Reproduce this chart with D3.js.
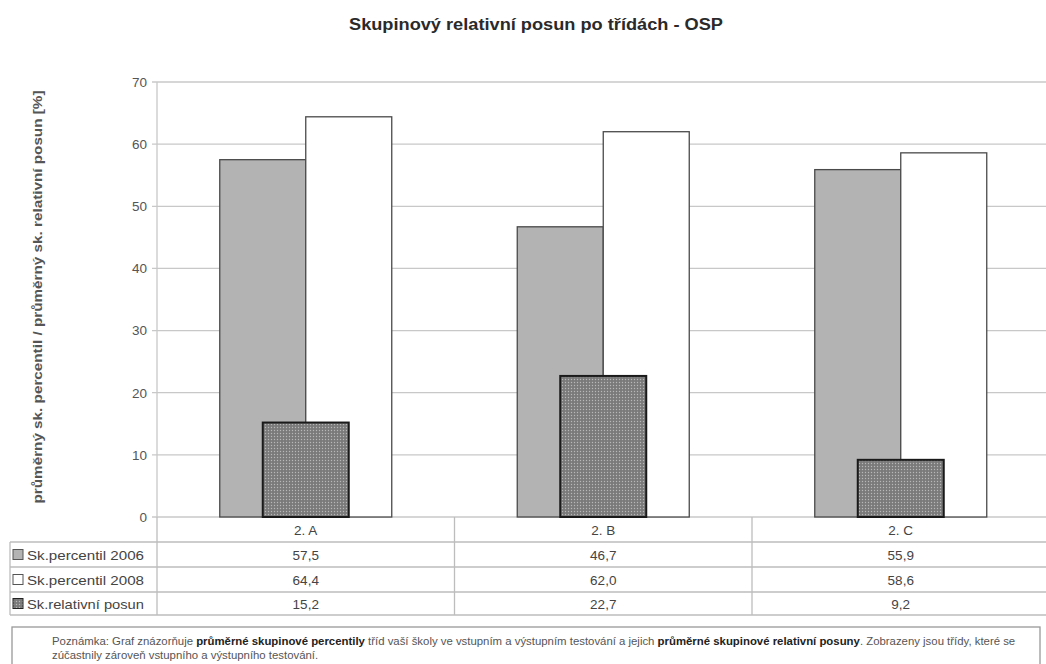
<!DOCTYPE html>
<html><head><meta charset="utf-8">
<script src="https://cdn.jsdelivr.net/npm/d3@7"></script>
<style>
body{margin:0;background:#fff;}
text{font-family:"Liberation Sans",Arial,sans-serif;}
</style></head>
<body><svg id="c" width="1046" height="664"></svg>
<script>
const categories = ["2. A", "2. B", "2. C"];
const seriesNames = ["Sk.percentil 2006", "Sk.percentil 2008", "Sk.relativní posun"];
const percentil2006 = [57.5, 46.7, 55.9];
const percentil2008 = [64.4, 62.0, 58.6];
const relativniPosun = [15.2, 22.7, 9.2];
const yTicks = [0, 10, 20, 30, 40, 50, 60, 70];

const fmt = v => v.toFixed(1).replace(".", ",");
const svg = d3.select("#c");
const defs = svg.append("defs");
const pat = defs.append("pattern").attr("id","dots").attr("width",3).attr("height",3).attr("patternUnits","userSpaceOnUse");
pat.append("rect").attr("width",3).attr("height",3).attr("fill","#7a7a7a");
pat.append("circle").attr("cx",1.5).attr("cy",1.5).attr("r",0.7).attr("fill","#b8b8b8");

const pLeft = 157, pRight = 1049.5, pTop = 82, pBottom = 517;
const x = d3.scaleBand().domain(categories).range([pLeft, pRight]);
const y = d3.scaleLinear().domain([0, 70]).range([pBottom, pTop]);
const barW = 86;

// title
svg.append("text").attr("x", 536).attr("y", 30).attr("text-anchor","middle")
  .attr("font-size", 16).attr("font-weight","bold").attr("fill","#2a2a2a")
  .attr("textLength", 374).attr("lengthAdjust","spacingAndGlyphs")
  .text("Skupinový relativní posun po třídách - OSP");

// gridlines
svg.append("g").selectAll("line").data(yTicks).join("line")
  .attr("x1", pLeft - 5).attr("x2", 1046).attr("y1", d => y(d)).attr("y2", d => y(d))
  .attr("stroke", "#c8c8c8").attr("stroke-width", 1.3);
svg.append("line").attr("x1", pLeft).attr("x2", pLeft).attr("y1", pTop).attr("y2", pBottom)
  .attr("stroke","#c8c8c8").attr("stroke-width",1.3);

// y axis labels
const yAxis = d3.axisLeft(y).tickValues(yTicks).tickSize(0).tickPadding(0);
const gy = svg.append("g").attr("transform", `translate(${pLeft-10},0)`).call(yAxis);
gy.select(".domain").remove();
gy.selectAll("text").attr("font-size", 13.5).attr("fill", "#555").attr("font-family","Liberation Sans, Arial, sans-serif");

// y title
svg.append("text").attr("transform", "translate(42,297) rotate(-90)").attr("text-anchor","middle")
  .attr("font-size", 13).attr("font-weight","bold").attr("fill","#555")
  .attr("textLength", 413).attr("lengthAdjust","spacingAndGlyphs")
  .text("průměrný sk. percentil / průměrný sk. relativní posun [%]");

// bars
const g = svg.append("g");
categories.forEach((c, i) => {
  const cx = x(c) + x.bandwidth()/2;
  g.append("rect").attr("x", cx - barW).attr("y", y(percentil2006[i])).attr("width", barW)
    .attr("height", y(0) - y(percentil2006[i])).attr("fill", "#b3b3b3").attr("stroke", "#4a4a4a").attr("stroke-width", 1.3);
  g.append("rect").attr("x", cx).attr("y", y(percentil2008[i])).attr("width", barW)
    .attr("height", y(0) - y(percentil2008[i])).attr("fill", "#fff").attr("stroke", "#4a4a4a").attr("stroke-width", 1.3);
  g.append("rect").attr("x", cx - barW/2).attr("y", y(relativniPosun[i])).attr("width", barW)
    .attr("height", y(0) - y(relativniPosun[i])).attr("fill", "url(#dots)").attr("stroke", "#1a1a1a").attr("stroke-width", 2);
});

// data table
const rowH = [pBottom, 542, 567, 592, 615];
const tl = svg.append("g");
const lineC = "#bdbdbd";
rowH.slice(1).forEach(yy => tl.append("line").attr("x1", 10).attr("x2", 1046).attr("y1", yy).attr("y2", yy).attr("stroke", lineC).attr("stroke-width",1.3));
tl.append("line").attr("x1", 10).attr("x2", 10).attr("y1", 542).attr("y2", 615).attr("stroke", lineC).attr("stroke-width",1.3);
[pLeft, x("2. B"), x("2. C")].forEach(xx => tl.append("line").attr("x1", xx).attr("x2", xx).attr("y1", pBottom).attr("y2", 615).attr("stroke", lineC).attr("stroke-width",1.3));

categories.forEach((c, i) => {
  const cx = x(c) + x.bandwidth()/2;
  const vals = [c, fmt(percentil2006[i]), fmt(percentil2008[i]), fmt(relativniPosun[i])];
  vals.forEach((v, r) => {
    tl.append("text").attr("x", cx).attr("y", (rowH[r] + rowH[r+1]) / 2 + 5).attr("text-anchor","middle")
      .attr("font-size", 13.5).attr("fill", "#444").text(v);
  });
});
const swFill = ["#b3b3b3", "#fff", "url(#dots)"];
const swStroke = ["#555", "#555", "#222"];
seriesNames.forEach((n, r) => {
  const cy = (rowH[r+1] + rowH[r+2]) / 2;
  tl.append("rect").attr("x", 13).attr("y", cy - 5).attr("width", 10).attr("height", 10)
    .attr("fill", swFill[r]).attr("stroke", swStroke[r]).attr("stroke-width", 1);
  tl.append("text").attr("x", 27).attr("y", cy + 5).attr("font-size", 13.5).attr("fill", "#444")
    .attr("textLength", 117).attr("lengthAdjust","spacingAndGlyphs").text(n);
});

// note box
svg.append("rect").attr("x", 12).attr("y", 627).attr("width", 1028).attr("height", 60)
  .attr("fill", "none").attr("stroke", "#999").attr("stroke-width", 1.3);
const note1 = [
  ["Poznámka: Graf znázorňuje ", false],
  ["průměrné skupinové percentily", true],
  [" tříd vaší školy ve vstupním a výstupním testování a jejich ", false],
  ["průměrné skupinové relativní posuny", true],
  [". Zobrazeny jsou třídy, které se", false]
];
const noteG = svg.append("g").attr("transform", "translate(52,0) scale(1.085,1)");
const t1 = noteG.append("text").attr("x", 0).attr("y", 645).attr("font-size", 10.5).attr("fill", "#555");
note1.forEach(([s, b]) => t1.append("tspan").attr("font-weight", b ? "bold" : "normal").attr("fill", b ? "#222" : "#555").text(s));
noteG.append("text").attr("x", 0).attr("y", 659).attr("font-size", 10.5).attr("fill", "#555")
  .text("zúčastnily zároveň vstupního a výstupního testování.");
</script></body></html>
